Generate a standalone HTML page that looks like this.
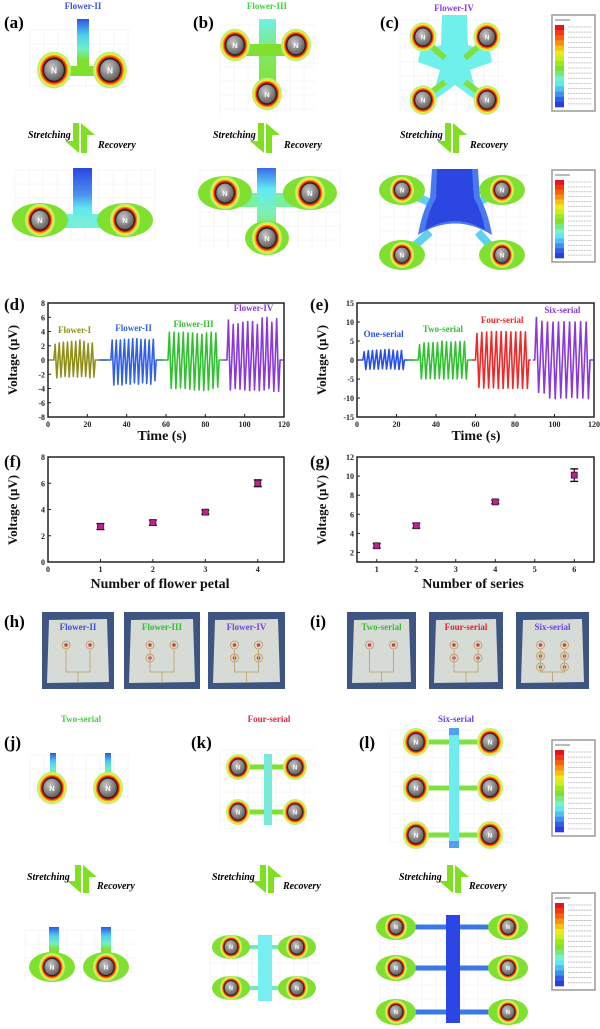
<!DOCTYPE html>
<html><head><meta charset="utf-8">
<style>
html,body{margin:0;padding:0;background:#fff;}
svg{display:block;font-family:"Liberation Serif",serif;}
</style></head>
<body>
<svg id="fig" width="600" height="1029" viewBox="0 0 600 1029" xmlns="http://www.w3.org/2000/svg">
<defs>
<radialGradient id="sphere" cx="0.4" cy="0.35" r="0.7"><stop offset="0" stop-color="#c8c8c8"/><stop offset="1" stop-color="#5a5a5a"/></radialGradient>
<linearGradient id="stemA" x1="0" y1="0" x2="0" y2="1"><stop offset="0" stop-color="#2f55e0"/><stop offset="0.3" stop-color="#4fd0f0"/><stop offset="0.55" stop-color="#70f0c0"/><stop offset="0.75" stop-color="#80e030"/><stop offset="1" stop-color="#80e030"/></linearGradient>
<linearGradient id="stemB" x1="0" y1="0" x2="0" y2="1"><stop offset="0" stop-color="#2a48e0"/><stop offset="0.45" stop-color="#4a90f0"/><stop offset="0.7" stop-color="#60e8f0"/><stop offset="1" stop-color="#80f0d0"/></linearGradient>
<linearGradient id="stemC" x1="0" y1="0" x2="0" y2="1"><stop offset="0" stop-color="#70f0e8"/><stop offset="0.5" stop-color="#80e860"/><stop offset="1" stop-color="#80e030"/></linearGradient>
<linearGradient id="stemD" x1="0" y1="0" x2="0" y2="1"><stop offset="0" stop-color="#3a6ae8"/><stop offset="0.3" stop-color="#60eaf4"/><stop offset="0.65" stop-color="#80f0b0"/><stop offset="1" stop-color="#80e040"/></linearGradient>
</defs>
<g id="layer-shapes"></g>
<g id="layer-charts"></g>
<g id="layer-text"></g>
</svg>
<script>
const NS='http://www.w3.org/2000/svg';
const shapes=document.getElementById('layer-shapes');
const charts=document.getElementById('layer-charts');
const texts=document.getElementById('layer-text');
function mk(tag,attrs,parent){const e=document.createElementNS(NS,tag);for(const k in attrs)e.setAttribute(k,attrs[k]);(parent||shapes).appendChild(e);return e;}
function txt(x,y,s,attrs,parent){const e=mk('text',Object.assign({x:x,y:y},attrs),parent||texts);e.textContent=s;return e;}

function magnet(cx,cy,r,rx,ry,name){
  const g=mk('g',{});
  
  
  if(rx){mk('ellipse',{cx:cx,cy:cy,rx:rx,ry:ry,fill:'#80e030'},g);}
  const k=1.08;
  mk('ellipse',{cx:cx,cy:cy,rx:r,ry:r*k,fill:'#b8f080'},g);
  mk('ellipse',{cx:cx,cy:cy,rx:r*0.9,ry:r*0.9*k,fill:'#f2f020'},g);
  mk('ellipse',{cx:cx,cy:cy,rx:r*0.82,ry:r*0.82*k,fill:'#ff8a10'},g);
  mk('ellipse',{cx:cx,cy:cy,rx:r*0.74,ry:r*0.74*k,fill:'#e01a10'},g);
  mk('ellipse',{cx:cx,cy:cy,rx:r*0.66,ry:r*0.66*k,fill:'#202020'},g);
  mk('ellipse',{cx:cx,cy:cy,rx:r*0.58,ry:r*0.58*k,fill:'url(#sphere)'},g);
  const t=mk('text',{x:cx,y:cy+r*0.2,'text-anchor':'middle','font-size':Math.max(5,r*0.5),fill:'#fff','font-family':'Liberation Sans, sans-serif','font-weight':'bold'},g);
  t.textContent='N';
}
function colorbar(x,y,w,h,name){
  const g=mk('g',{});
  
  
  mk('rect',{x:x,y:y,width:w,height:h,fill:'#fff',stroke:'#9a9a9a','stroke-width':1.5},g);
  const cols=['#e8141a','#f03a10','#f86010','#fa9010','#f8c010','#f0e818','#c8f020','#98ea20','#7ee030','#78e880','#78f0c8','#60e8f0','#50c0f0','#4090f0','#3060e8','#2440e0'];
  const bh=(h-14)/cols.length;
  cols.forEach((c,i)=>{mk('rect',{x:x+3,y:y+10+i*bh,width:9,height:bh+0.3,fill:c},g);
    mk('line',{x1:x+16,x2:x+w-3,y1:y+12+i*bh,y2:y+12+i*bh,stroke:'#aaa','stroke-width':0.8,'stroke-dasharray':'1 0.6'},g);});
  mk('line',{x1:x+3,x2:x+18,y1:y+5,y2:y+5,stroke:'#777','stroke-width':1},g);
}
function arrows(cx,y1,y2,name){
  const g=mk('g',{});
  
  
  mk('polygon',{points:`${cx-1},${y1} ${cx-7},${y1} ${cx-7},${y2-12} ${cx-15},${y2-12} ${cx-1},${y2}`,fill:'#7ee020'},g);
  mk('polygon',{points:`${cx+1},${y2} ${cx+7},${y2} ${cx+7},${y1+12} ${cx+15},${y1+12} ${cx+1},${y1}`,fill:'#7ee020'},g);
}
function grid(x,y,w,h){const g=mk('g',{opacity:0.35});for(let i=0;i<=w;i+=14)mk('line',{x1:x+i,x2:x+i,y1:y,y2:y+h,stroke:'#ccd','stroke-width':0.5},g);for(let j=0;j<=h;j+=14)mk('line',{x1:x,x2:x+w,y1:y+j,y2:y+j,stroke:'#ccd','stroke-width':0.5},g);}
const lab={'font-weight':'bold','font-size':17};
const ttl={'font-weight':'bold','font-size':9,'text-anchor':'middle'};
const sr={'font-weight':'bold','font-style':'italic','font-size':10};

/* ---- (a) ---- */
grid(30,30,100,60);
mk('rect',{x:60,y:66,width:46,height:10,fill:'#80e030'});
mk('rect',{x:77,y:19,width:12,height:55,fill:'url(#stemA)'});
magnet(54,70,17,0,0,'magnet-a1');magnet(110,70,17,0,0,'magnet-a2');
txt(83,9,'Flower-II',Object.assign({fill:'#3a50e8'},ttl));
txt(4,28,'(a)',lab);
arrows(80,123,153,'arrows-a');
txt(28,138,'Stretching',sr);txt(98,148,'Recovery',sr);
grid(15,170,140,70);
mk('rect',{x:60,y:214,width:46,height:14,fill:'#70f0e0'});
mk('rect',{x:73,y:168,width:19,height:58,fill:'url(#stemB)'});
magnet(40,220,15,28,17,'magnet-a3');magnet(125,220,15,28,17,'magnet-a4');

/* ---- (b) ---- */
grid(220,25,95,90);
mk('rect',{x:259,y:19,width:17,height:75,fill:'url(#stemC)'});
mk('line',{x1:240,y1:50,x2:295,y2:50,stroke:'#80e030','stroke-width':12});
magnet(235,45,15,0,0,'magnet-b1');magnet(296,45,15,0,0,'magnet-b2');magnet(267,94,15,0,0,'magnet-b3');
txt(267,9,'Flower-III',Object.assign({fill:'#40d040'},ttl));
txt(193,28,'(b)',lab);
arrows(265,123,153,'arrows-b');
txt(213,138,'Stretching',sr);txt(284,148,'Recovery',sr);
grid(200,170,140,80);
mk('line',{x1:235,y1:200,x2:300,y2:200,stroke:'#78f0a0','stroke-width':14});
mk('rect',{x:257,y:168,width:19,height:70,fill:'url(#stemD)'});
magnet(225,193,15,27,17,'magnet-b4');magnet(310,193,15,27,17,'magnet-b5');magnet(267,238,15,22,17,'magnet-b6');

/* ---- (c) ---- */
grid(400,20,105,95);
mk('polygon',{points:'442,15 467,15 468,45 490,52 492,62 470,70 475,88 490,96 484,106 455,85 426,106 420,96 435,88 440,70 418,62 420,52 441,45',fill:'#6ff0ea'});
mk('line',{x1:430,y1:45,x2:445,y2:58,stroke:'#80e040','stroke-width':6});
mk('line',{x1:480,y1:45,x2:465,y2:58,stroke:'#80e040','stroke-width':6});
mk('line',{x1:430,y1:93,x2:445,y2:82,stroke:'#80e040','stroke-width':6});
mk('line',{x1:480,y1:93,x2:465,y2:82,stroke:'#80e040','stroke-width':6});
magnet(423,37,13.5,0,0,'magnet-c1');magnet(487,37,13.5,0,0,'magnet-c2');magnet(423,100,13.5,0,0,'magnet-c3');magnet(487,100,13.5,0,0,'magnet-c4');
colorbar(552,15,43,96,'colorbar-c-top');
txt(454,11,'Flower-IV',Object.assign({fill:'#8a40d8'},ttl));
txt(380,28,'(c)',lab);
arrows(452,123,153,'arrows-c');
txt(400,138,'Stretching',sr);txt(470,148,'Recovery',sr);
grid(380,175,150,90);
mk('line',{x1:415,y1:196,x2:438,y2:206,stroke:'#60d0f0','stroke-width':8});
mk('line',{x1:490,y1:196,x2:470,y2:206,stroke:'#60d0f0','stroke-width':8});
mk('line',{x1:412,y1:248,x2:430,y2:232,stroke:'#60d0f0','stroke-width':8});
mk('line',{x1:492,y1:248,x2:478,y2:232,stroke:'#60d0f0','stroke-width':8});
mk('path',{d:'M432,169 H478 L480,198 Q488,212 492,235 Q455,212 418,235 Q422,212 430,198 Z',fill:'#4a7af0'});
mk('path',{d:'M437,169 H472 L474,198 Q482,212 485,230 Q455,212 425,230 Q428,212 436,198 Z',fill:'#2c46e2'});
magnet(402,190,12,23,15,'magnet-c5');magnet(502,190,12,23,15,'magnet-c6');magnet(402,255,12,23,15,'magnet-c7');magnet(502,255,12,23,15,'magnet-c8');
colorbar(552,170,43,92,'colorbar-c-bottom');

/* ---- photos ---- */
function photo(x,w,label,color,n,name){
  const g=mk('g',{});
  
  
  mk('rect',{x:x,y:612,width:w,height:77,fill:'#3e5582'},g);
  mk('polygon',{points:`${x+7},${620} ${x+w-7},${619} ${x+w-5},${682} ${x+5},${683}`,fill:'#d6dbd6'},g);
  const cx=x+w/2;
  for(let i=0;i<n;i++){const row=Math.floor(i/2),col=i%2;
    const px=cx+(col?12:-12), py=645+row*(n>4?11:13);
    mk('circle',{cx:px,cy:py,r:4,fill:'none',stroke:'#c8a070','stroke-width':1},g);
    mk('circle',{cx:px,cy:py,r:1.8,fill:'#d04030'},g);}
  mk('path',{d:`M${cx-12} ${650} V672 H${cx+12} V650 M${cx} 672 V683`,fill:'none',stroke:'#c0a878','stroke-width':1},g);
  const t=mk('text',{x:cx,y:630,'text-anchor':'middle','font-size':9,'font-weight':'bold',fill:color},g);t.textContent=label;
}
txt(4,627,'(h)',lab);
photo(42,72,'Flower-II','#3850e8',2,'photo-flower-ii');
photo(124,76,'Flower-III','#30c030',3,'photo-flower-iii');
photo(208,77,'Flower-IV','#7a40e0',4,'photo-flower-iv');
txt(310,627,'(i)',lab);
photo(347,69,'Two-serial','#30c030',2,'photo-two-serial');
photo(429,74,'Four-serial','#e02030',4,'photo-four-serial');
photo(516,73,'Six-serial','#6a40e8',6,'photo-six-serial');

/* ---- (j) ---- */
txt(81,722,'Two-serial',Object.assign({fill:'#40d040'},ttl));
txt(4,748,'(j)',lab);
grid(30,755,100,45);
mk('rect',{x:50,y:753,width:6,height:30,fill:'url(#stemA)'});mk('rect',{x:105,y:753,width:6,height:30,fill:'url(#stemA)'});
magnet(52,788,15,0,0,'magnet-j1');magnet(108,788,15,0,0,'magnet-j2');
arrows(82,865,893,'arrows-j');
txt(27,880,'Stretching',sr);txt(97,889,'Recovery',sr);
grid(25,930,110,50);
mk('rect',{x:49,y:927,width:10,height:30,fill:'url(#stemA)'});mk('rect',{x:101,y:927,width:10,height:30,fill:'url(#stemA)'});
magnet(52,967,13,23,15,'magnet-j3');magnet(106,967,13,23,15,'magnet-j4');

/* ---- (k) ---- */
txt(269,722,'Four-serial',Object.assign({fill:'#e02840'},ttl));
txt(191,748,'(k)',lab);
grid(220,750,95,80);
mk('line',{x1:245,y1:767,x2:290,y2:767,stroke:'#80e030','stroke-width':5});
mk('line',{x1:245,y1:812,x2:290,y2:812,stroke:'#80e030','stroke-width':5});
mk('rect',{x:264,y:754,width:8,height:71,fill:'#78ead8'});
magnet(238,767,12,0,0,'magnet-k1');magnet(295,767,12,0,0,'magnet-k2');magnet(238,812,12,0,0,'magnet-k3');magnet(295,812,12,0,0,'magnet-k4');
arrows(267,865,893,'arrows-k');
txt(212,880,'Stretching',sr);txt(283,889,'Recovery',sr);
grid(210,935,110,65);
mk('line',{x1:245,y1:947,x2:285,y2:947,stroke:'#70e8c0','stroke-width':4});
mk('line',{x1:245,y1:988,x2:285,y2:988,stroke:'#70e8c0','stroke-width':4});
mk('rect',{x:258,y:935,width:14,height:66,fill:'#78eef0'});
magnet(231,947,11,19,12,'magnet-k5');magnet(297,947,11,19,12,'magnet-k6');magnet(231,988,11,19,12,'magnet-k7');magnet(297,988,11,19,12,'magnet-k8');

/* ---- (l) ---- */
txt(456,722,'Six-serial',Object.assign({fill:'#7040e0'},ttl));
txt(359,748,'(l)',lab);
grid(390,730,125,115);
[742,788,835].forEach(y=>mk('line',{x1:425,y1:y,x2:482,y2:y,stroke:'#80e040','stroke-width':5}));
mk('rect',{x:449,y:728,width:10,height:120,fill:'#70ecf0'});
mk('rect',{x:449,y:728,width:10,height:7,fill:'#50a0f0'});mk('rect',{x:449,y:841,width:10,height:7,fill:'#50a0f0'});
[742,788,835].forEach((y,i)=>{magnet(416,y,13,0,0,'magnet-l-left-'+i);magnet(490,y,13,0,0,'magnet-l-right-'+i);});
colorbar(552,740,43,96,'colorbar-l-top');
arrows(454,865,893,'arrows-l');
txt(399,880,'Stretching',sr);txt(469,889,'Recovery',sr);
grid(380,915,150,110);
[927,968,1012].forEach(y=>mk('line',{x1:415,y1:y,x2:490,y2:y,stroke:'#3a78ea','stroke-width':5}));
mk('rect',{x:446,y:915,width:14,height:108,fill:'#2c46e6'});
[927,968,1012].forEach((y,i)=>{magnet(396,y,11,20,13,'magnet-l-left-b'+i);magnet(508,y,11,20,13,'magnet-l-right-b'+i);});
colorbar(552,893,43,97,'colorbar-l-bottom');
</script>

<script>
/* ================= chart data ================= */
const dStarts=[3,32,61,91];
const dEnds=[24,55,87,118];
const dLabels=['Flower-I','Flower-II','Flower-III','Flower-IV'];
const dColors=['#8f8f1c','#3060e8','#30c030','#8a38d8'];
const dLabelY=[3.8,4.1,4.6,6.9];
const dPeaks=[[2.2,2.4,2.5,2.5,2.6,2.6,2.8,2.6,2.3,2.4],[2.8,2.8,2.8,2.9,2.9,3.0,3.0,2.9,2.9,2.8,2.9],[3.9,3.9,3.8,3.9,3.8,3.8,3.7,3.6,3.8,3.9,3.8],[5.6,5.0,5.1,5.3,5.4,5.4,5.0,5.9,6.0,5.3,5.8]];
const dTroughs=[[-2.5,-2.4,-2.3,-2.4,-2.3,-2.4,-2.3,-2.3,-2.5,-2.4],[-3.5,-3.4,-3.5,-3.3,-3.4,-3.2,-3.4,-3.2,-3.3,-3.4,-2.9],[-4.0,-4.0,-3.9,-4.0,-4.1,-4.2,-4.2,-4.3,-4.2,-4.0,-3.8],[-4.2,-4.0,-4.1,-4.2,-4.3,-4.2,-4.3,-4.2,-4.0,-4.4,-4.4]];
const dYTicks=[-8,-6,-4,-2,0,2,4,6,8];
const tTicks=[0,20,40,60,80,100,120];

const eStarts=[3,31,60,90];
const eEnds=[24,56,87,118];
const eLabels=['One-serial','Two-serial','Four-serial','Six-serial'];
const eColors=['#2850e8','#30c030','#f02828','#8a38d8'];
const eLabelY=[6.0,7.4,9.7,12.4];
const ePeaks=[[2.2,2.5,2.5,2.6,2.6,2.7,2.8,2.6,2.4,2.5],[4.0,4.5,4.5,4.6,4.6,5.0,4.8,4.7,4.8,4.9,4.9],[7.0,7.3,7.4,7.5,7.5,7.5,7.5,7.4,7.4,7.5,7.4],[11.2,10.2,10.0,10.0,10.0,10.1,10.0,10.0,10.1,10.0]];
const eTroughs=[[-2.5,-2.4,-2.4,-2.4,-2.3,-2.4,-2.3,-2.4,-2.5,-2.5],[-5.0,-5.0,-4.9,-5.0,-4.9,-5.0,-4.9,-5.0,-5.0,-4.8,-5.0],[-7.2,-7.4,-7.4,-7.3,-7.5,-7.5,-7.4,-7.5,-7.4,-7.5,-7.5],[-8.5,-8.7,-10.0,-10.2,-10.0,-10.0,-9.8,-10.0,-10.0,-10.2]];
const eYTicks=[-15,-10,-5,0,5,10,15];

const fX=[1,2,3,4];
const fY=[2.7,3.0,3.8,6.0];
const fErr=[0.15,0.12,0.08,0.18];
const fXTicks=[0,1,2,3,4];
const fYTicks=[0,2,4,6,8];

const gX=[1,2,4,6];
const gY=[2.7,4.8,7.3,10.1];
const gErr=[0.12,0.15,0.08,0.55];
const gXTicks=[1,2,3,4,5,6];
const gYTicks=[2,4,6,8,10,12];

/* ================= drawing ================= */
const CH=document.getElementById('layer-charts');
function el(tag,attrs){const e=document.createElementNS(NS,tag);for(const k in attrs)e.setAttribute(k,attrs[k]);CH.appendChild(e);return e;}
function scale(d0,d1,r0,r1){return v=>r0+(v-d0)/(d1-d0)*(r1-r0);}
function axesBox(x0,x1,y0,y1,xs,ys,xt,yt,name){
  const f=el('rect',{x:x0,y:y0,width:x1-x0,height:y1-y0,fill:'none',stroke:'#222','stroke-width':1.5});
  
  xt.forEach(v=>{const X=xs(v);el('line',{x1:X,x2:X,y1:y1,y2:y1-3,stroke:'#222','stroke-width':1});
    const t=el('text',{x:X,y:y1+10,'text-anchor':'middle','font-size':8,'font-weight':'bold',fill:'#222'});t.textContent=v;
    });
  yt.forEach(v=>{const Y=ys(v);el('line',{x1:x0,x2:x0+3,y1:Y,y2:Y,stroke:'#222','stroke-width':1});
    const t=el('text',{x:x0-3,y:Y+3,'text-anchor':'end','font-size':8,'font-weight':'bold',fill:'#222'});t.textContent=v;
    });
}
function ytitle(x,yc,name){const t=el('text',{x:x,y:yc,'text-anchor':'middle','font-size':13,'font-weight':'bold',transform:`rotate(-90 ${x} ${yc})`,fill:'#111'});t.textContent='Voltage (\u03bcV)';
  }
function xtitle(x,y,s,name){const t=el('text',{x:x,y:y,'text-anchor':'middle','font-size':14,'font-weight':'bold',fill:'#111'});t.textContent=s;
  }
function panelLabel(x,y,s){const t=el('text',{x:x,y:y,'font-size':17,'font-weight':'bold',fill:'#111'});t.textContent=s;
  }

function wavePanel(x0,x1,y0,y1,ymin,ymax,yt,starts,ends,peaks,troughs,colors,labels,labelY,name){
  const xs=scale(0,120,x0,x1), ys=scale(ymin,ymax,y1,y0);
  axesBox(x0,x1,y0,y1,xs,ys,tTicks,yt,name);
  starts.forEach((s,i)=>{
    const n=peaks[i].length, per=(ends[i]-s)/n;
    const segStart=i===0?0.5:ends[i-1]+2, segEnd=i===3?119.5:starts[i+1]-2;
    let d=`M${xs(segStart)} ${ys(0)} L${xs(s)} ${ys(0)}`;
    for(let k=0;k<n;k++){const t=s+k*per;
      d+=` L${xs(t+per*0.3)} ${ys(peaks[i][k])} L${xs(t+per*0.7)} ${ys(troughs[i][k])} L${xs(t+per)} ${ys(0)}`;}
    d+=` L${xs(segEnd)} ${ys(0)}`;
    const p=el('path',{d:d,fill:'none',stroke:colors[i],'stroke-width':1.6,'stroke-linejoin':'round'});
    
    const t=el('text',{x:xs((s+ends[i])/2),y:ys(labelY[i]),'text-anchor':'middle','font-size':9,'font-weight':'bold',fill:colors[i]});
    t.textContent=labels[i];
  });
}
function scatterPanel(x0,x1,y0,y1,xmin,xmax,ymin,ymax,xt,yt,X,Y,E,name){
  const xs=scale(xmin,xmax,x0,x1), ys=scale(ymin,ymax,y1,y0);
  axesBox(x0,x1,y0,y1,xs,ys,xt,yt,name);
  X.forEach((v,i)=>{const cx=xs(v),cy=ys(Y[i]),top=ys(Y[i]+E[i]),bot=ys(Y[i]-E[i]);
    const g=el('g',{});
    const add=(t,a)=>{const e=document.createElementNS(NS,t);for(const k in a)e.setAttribute(k,a[k]);g.appendChild(e);};
    add('line',{x1:cx,x2:cx,y1:top-1,y2:bot+1,stroke:'#111','stroke-width':1.2});
    add('line',{x1:cx-4,x2:cx+4,y1:top-1,y2:top-1,stroke:'#111','stroke-width':1.4});
    add('line',{x1:cx-4,x2:cx+4,y1:bot+1,y2:bot+1,stroke:'#111','stroke-width':1.4});
    add('rect',{x:cx-3,y:cy-3,width:6,height:6,fill:'#c02090',stroke:'#301030','stroke-width':0.8});
  });
}
panelLabel(4,310,'(d)');
wavePanel(48,284,303,417,-8,8,dYTicks,dStarts,dEnds,dPeaks,dTroughs,dColors,dLabels,dLabelY,'chart-d');
ytitle(17,360,'chart-d-y-title');xtitle(162,440,'Time (s)','chart-d-x-title');
panelLabel(310,310,'(e)');
wavePanel(357,594,303,417,-15,15,eYTicks,eStarts,eEnds,ePeaks,eTroughs,eColors,eLabels,eLabelY,'chart-e');
ytitle(326,360,'chart-e-y-title');xtitle(476,440,'Time (s)','chart-e-x-title');
panelLabel(4,467,'(f)');
scatterPanel(48,284,457,562,0,4.5,0,8,fXTicks,fYTicks,fX,fY,fErr,'chart-f');
ytitle(17,510,'chart-f-y-title');xtitle(160,588,'Number of flower petal','chart-f-x-title');
panelLabel(310,467,'(g)');
scatterPanel(357,594,457,562,0.5,6.5,1,12,gXTicks,gYTicks,gX,gY,gErr,'chart-g');
ytitle(326,510,'chart-g-y-title');xtitle(473,588,'Number of series','chart-g-x-title');
</script>
</body></html>
